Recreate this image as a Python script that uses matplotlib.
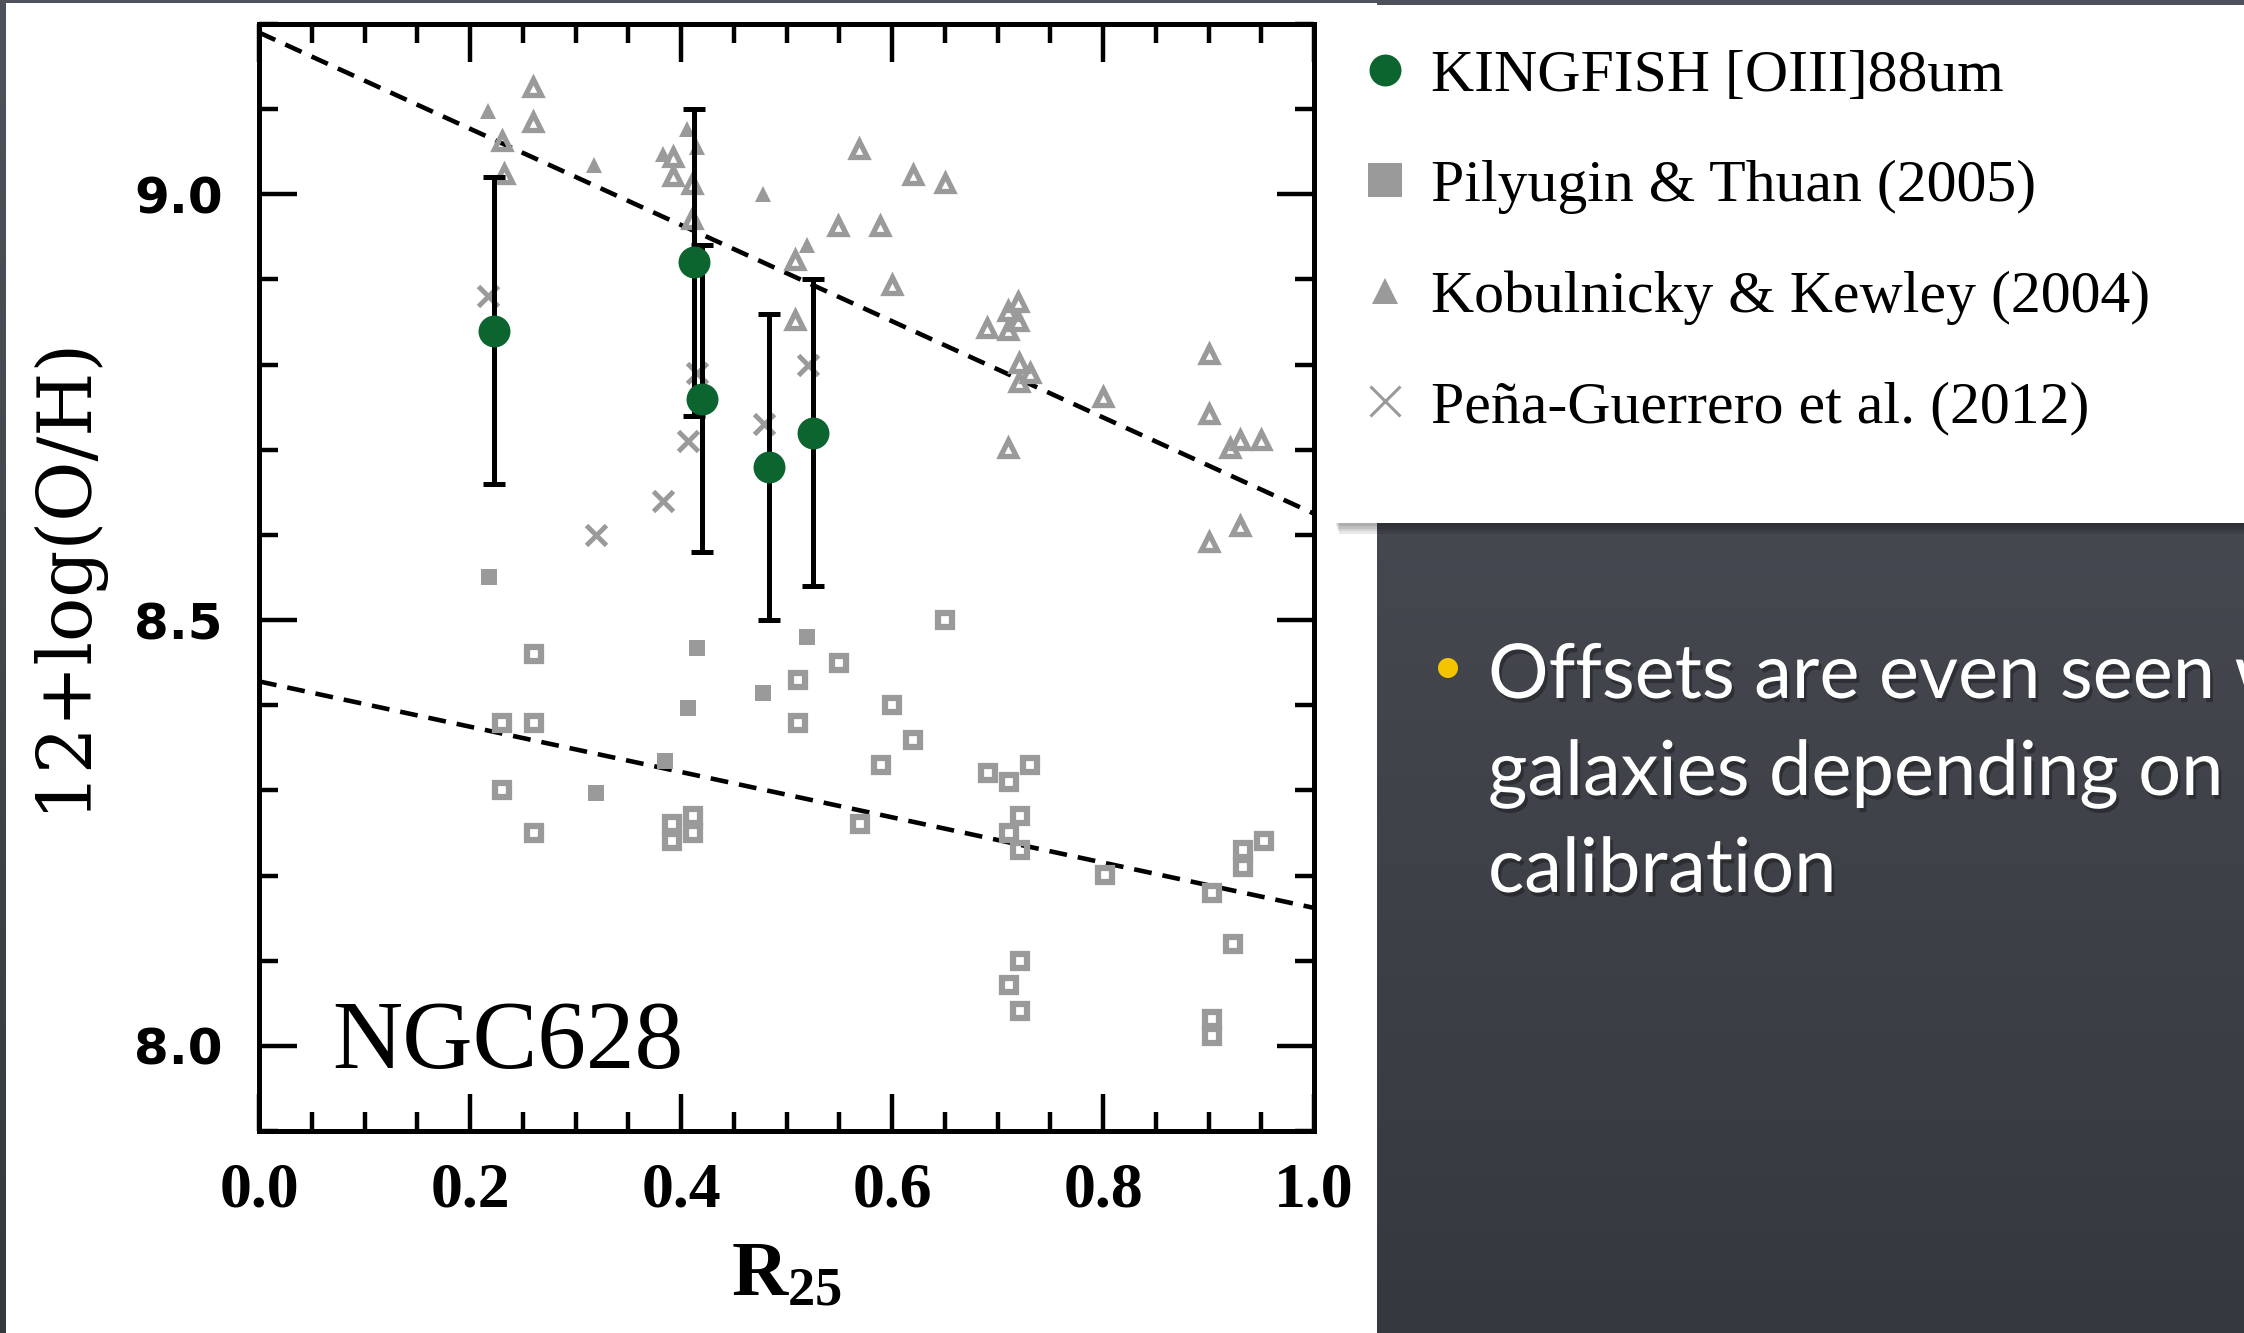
import numpy as np
import matplotlib
matplotlib.use("Agg")
import matplotlib.pyplot as plt
import matplotlib.patheffects as pe
from matplotlib.lines import Line2D
from matplotlib.patches import Rectangle, Circle
from matplotlib.ticker import MultipleLocator, FormatStrFormatter

plt.rcParams["mathtext.fontset"] = "custom"
plt.rcParams["mathtext.rm"] = "Liberation Serif:bold"
plt.rcParams["mathtext.bf"] = "Liberation Serif:bold"

# ---- data (NGC628) ----
# KINGFISH [OIII]88um
kf_r = [0.223, 0.412, 0.420, 0.483, 0.525]
kf_oh = [8.84, 8.92, 8.76, 8.68, 8.72]
kf_err = [0.18, 0.18, 0.18, 0.18, 0.18]

# Pena-Guerrero et al. (2012)
pg_r = [0.217, 0.415, 0.407, 0.383, 0.319, 0.479, 0.520]
pg_oh = [8.88, 8.79, 8.71, 8.64, 8.60, 8.73, 8.80]

# Pilyugin & Thuan (2005), filled squares
pt_r = [0.218, 0.415, 0.407, 0.478, 0.519, 0.385, 0.319]
pt_oh = [8.55, 8.467, 8.397, 8.414, 8.48, 8.334, 8.297]

# Kobulnicky & Kewley (2004), filled triangles
kk_r = [0.217, 0.318, 0.383, 0.406, 0.415, 0.478, 0.519]
kk_oh = [9.098, 9.035, 9.047, 9.077, 9.055, 9.000, 8.940]

# open triangles (KK04 calibration, other HII regions)
kk_open_r = [0.260, 0.260, 0.230, 0.232, 0.392, 0.392, 0.410, 0.410, 0.569,
             0.620, 0.650, 0.549, 0.589, 0.508, 0.600, 0.508, 0.690, 0.710,
             0.710, 0.719, 0.719, 0.720, 0.731, 0.720, 0.710, 0.800, 0.900,
             0.900, 0.920, 0.930, 0.950, 0.930, 0.900]
kk_open_oh = [9.126, 9.085, 9.063, 9.024, 9.044, 9.021, 9.012, 8.971, 9.053,
              9.023, 9.013, 8.963, 8.963, 8.923, 8.893, 8.852, 8.843, 8.863,
              8.841, 8.874, 8.851, 8.802, 8.790, 8.780, 8.702, 8.762, 8.812,
              8.742, 8.702, 8.712, 8.712, 8.611, 8.592]

# open squares (PT05 calibration, other HII regions)
pt_open_r = [0.261, 0.230, 0.261, 0.230, 0.261, 0.391, 0.391, 0.411, 0.411,
             0.511, 0.511, 0.550, 0.600, 0.620, 0.590, 0.570, 0.650, 0.691,
             0.711, 0.731, 0.721, 0.711, 0.721, 0.802, 0.903, 0.933, 0.933,
             0.953, 0.923, 0.721, 0.711, 0.721, 0.903, 0.903]
pt_open_oh = [8.460, 8.379, 8.379, 8.300, 8.250, 8.260, 8.240, 8.270, 8.250,
              8.430, 8.379, 8.450, 8.400, 8.359, 8.330, 8.260, 8.500, 8.320,
              8.310, 8.330, 8.270, 8.250, 8.230, 8.201, 8.180, 8.230, 8.210,
              8.240, 8.120, 8.100, 8.071, 8.041, 8.031, 8.011]

# gradient fits: (intercept, slope)
fit_kk = (9.19, -0.565)
fit_pt = (8.428, -0.266)

legend_labels = ["KINGFISH [OIII]88um", "Pilyugin & Thuan (2005)",
                 "Kobulnicky & Kewley (2004)", "Peña-Guerrero et al. (2012)"]
bullet_lines = ["Offsets are even seen within", "galaxies depending on", "calibration"]

green = "#0c652f"
gray = "#9a9a9a"

W, H = 2244, 1333
fig = plt.figure(figsize=(W / 100, H / 100), dpi=100)

# ---- slide background ----
bg = fig.add_axes([0, 0, 1, 1], zorder=-10)
grad = np.linspace(0, 1, 256)[:, None]
bg.imshow(grad, extent=[0, W, H, 0], aspect="auto",
          cmap=matplotlib.colors.LinearSegmentedColormap.from_list("bg", ["#4f525a", "#35383e"]))
bg.set_xlim(0, W)
bg.set_ylim(H, 0)
bg.axis("off")
bg.add_patch(Rectangle((6, 3), 1371, H, facecolor="white", edgecolor="none"))
# legend card with a soft shadow
for k in range(4):
    bg.add_patch(Rectangle((1336 + k, 523), 920, 3 + 2.5 * k, facecolor="black",
                           alpha=0.09, edgecolor="none"))
bg.add_patch(Rectangle((1332, 5), 920, 518, facecolor="white", edgecolor="none"))

# bullet text
bg.add_patch(Circle((1448, 668), 10, facecolor="#f5c400", edgecolor="none"))
shadow = [pe.SimplePatchShadow(offset=(2, -3), shadow_rgbFace="black", alpha=0.3), pe.Normal()]
for i, line in enumerate(bullet_lines):
    bg.text(1488, 698 + i * 97, line, color="white", fontsize=54.6, family="Lato",
            va="baseline", ha="left", clip_on=True, path_effects=shadow)

# ---- main plot ----
ax = fig.add_axes([259 / W, 202 / H, 1055 / W, 1107 / H])
r = np.array([0.0, 1.0])
ax.plot(r, fit_kk[0] + fit_kk[1] * r, color="black", ls=(0, (3.9, 2.4)), lw=3.3, zorder=2)
ax.plot(r, fit_pt[0] + fit_pt[1] * r, color="black", ls=(0, (3.9, 2.4)), lw=3.3, zorder=2)

ax.plot(kk_open_r, kk_open_oh, ls="none", marker="^", ms=12, mfc="none",
        mec=gray, mew=3.8, zorder=3)
ax.plot(pt_open_r, pt_open_oh, ls="none", marker="s", ms=10.4, mfc="none",
        mec=gray, mew=4.5, zorder=3)
ax.plot(kk_r, kk_oh, ls="none", marker="^", ms=12, color=gray, mew=0, zorder=3)
ax.plot(pt_r, pt_oh, ls="none", marker="s", ms=11.5, color=gray, mew=0, zorder=3)
ax.plot(pg_r, pg_oh, ls="none", marker="x", ms=15, color=gray, mew=3.5, zorder=3)

ax.errorbar(kf_r, kf_oh, yerr=kf_err, fmt="none", ecolor="black", elinewidth=3.6,
            capsize=8, capthick=3.6, zorder=4)
ax.plot(kf_r, kf_oh, ls="none", marker="o", ms=23, color=green, mew=0, zorder=5)

ax.text(0.069, 7.974, "NGC628", family="Liberation Serif", fontsize=70,
        va="baseline", ha="left")

ax.set_xlim(0, 1)
ax.set_ylim(7.9, 9.2)
ax.xaxis.set_major_locator(MultipleLocator(0.2))
ax.xaxis.set_minor_locator(MultipleLocator(0.05))
ax.yaxis.set_major_locator(MultipleLocator(0.5))
ax.yaxis.set_minor_locator(MultipleLocator(0.1))
ax.xaxis.set_major_formatter(FormatStrFormatter("%.1f"))
ax.yaxis.set_major_formatter(FormatStrFormatter("%.1f"))
ax.tick_params(which="both", direction="in", top=True, right=True, width=3.2)
ax.tick_params(which="major", length=27)
ax.tick_params(which="minor", length=13.7)
ax.tick_params(axis="x", pad=23)
ax.tick_params(axis="y", pad=26)
for s in ax.spines.values():
    s.set_linewidth(3.6)
plt.setp(ax.get_xticklabels(), family="Liberation Serif", weight="bold", fontsize=46)
plt.setp(ax.get_yticklabels(), family="DejaVu Sans", weight="bold", fontsize=36)

ax.set_xlabel(r"$\mathrm{R_{25}}$", fontsize=56)
ax.xaxis.set_label_coords(0.5, -0.095)
ax.set_ylabel("12+log(O/H)", family="DejaVu Serif", fontsize=53)
ax.yaxis.set_label_coords(-0.151, 0.505)

# ---- legend card ----
handles = [
    Line2D([], [], ls="none", marker="o", ms=23, color=green, mew=0),
    Line2D([], [], ls="none", marker="s", ms=25, color=gray, mew=0),
    Line2D([], [], ls="none", marker="^", ms=19, color=gray, mew=0),
    Line2D([], [], ls="none", marker="x", ms=21, color=gray, mew=2.2),
]
fig.legend(handles, legend_labels, loc="upper left", bbox_to_anchor=(1355 / W, 1 - 49 / H),
           frameon=False, prop={"family": "Liberation Serif", "size": 43},
           handlelength=1.0, handletextpad=0.27, labelspacing=0.93, borderpad=0,
           borderaxespad=0)

fig.savefig("out.png", dpi=100)
